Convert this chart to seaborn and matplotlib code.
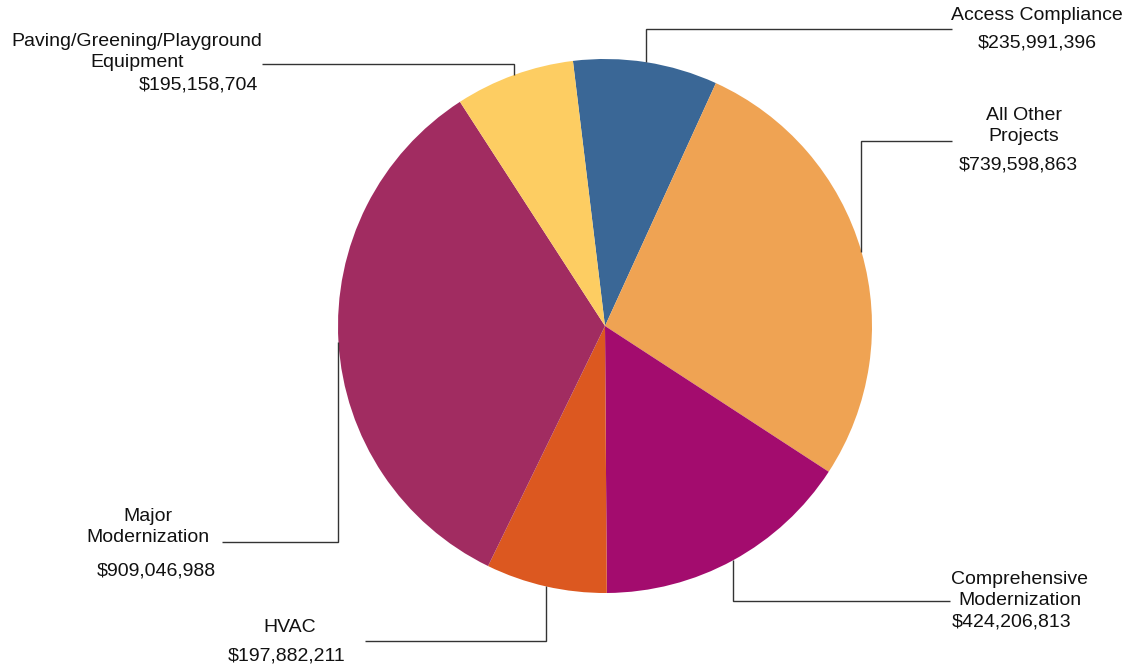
import matplotlib
matplotlib.use("Agg")
import matplotlib.pyplot as plt
import seaborn as sns
import numpy as np

categories = ["Access Compliance", "All Other\nProjects", "Comprehensive\nModernization",
              "HVAC", "Major\nModernization", "Paving/Greening/Playground\nEquipment"]
values = [235991396, 739598863, 424206813, 197882211, 909046988, 195158704]
colors = ["#3a6796", "#efa353", "#a30c6e", "#dc5820", "#a12c61", "#fdcd62"]

sns.set_theme(style="white")
plt.rcParams["font.family"] = ["Liberation Sans", "DejaVu Sans"]

W, H = 1127, 668
fig = plt.figure(figsize=(W / 100, H / 100), dpi=100)
ax = fig.add_axes([0, 0, 1, 1])

cx, cy, r = 605, 326, 267
wedges, _ = ax.pie(values, colors=colors, startangle=-96.9, counterclock=True,
                   center=(cx, cy), radius=r, wedgeprops=dict(linewidth=0))
ax.set_xlim(0, W)
ax.set_ylim(H, 0)
ax.set_aspect("equal", adjustable="box")
ax.axis("off")

# layout of leader lines / labels (pixel positions)
# (elbow_y, end_x, label_x, label_y, value_x, value_y, value_ha)
layout = [
    (29, 952, 1037, 15, 1037, 43, "center"),
    (141, 952, 1024, 126, 1018, 165, "center"),
    (601, 950, 1020, 590, 952, 622, "left"),
    (641, 365, 290, 627, 287, 656, "center"),
    (542, 222, 148, 527, 156, 571, "center"),
    (64, 262, 137, 52, 258, 85, "right"),
]

lc = "#333333"
for w, cat, val, lay in zip(wedges, categories, values, layout):
    ey, ex, lx, ly, vx, vy, vha = lay
    th = np.deg2rad((w.theta1 + w.theta2) / 2)
    px = cx + r * np.cos(th)
    py = cy + r * np.sin(th)
    ax.plot([px, px, ex], [py, ey, ey], color=lc, lw=1.0, solid_capstyle="butt",
            solid_joinstyle="miter", zorder=1)
    ax.text(lx, ly, cat, ha="center", va="center", fontsize=14, color="#111111",
            linespacing=1.27, multialignment="center")
    ax.text(vx, vy, f"${val:,.0f}", ha=vha, va="center", fontsize=14, color="#111111")

fig.savefig("out.png", dpi=100)
